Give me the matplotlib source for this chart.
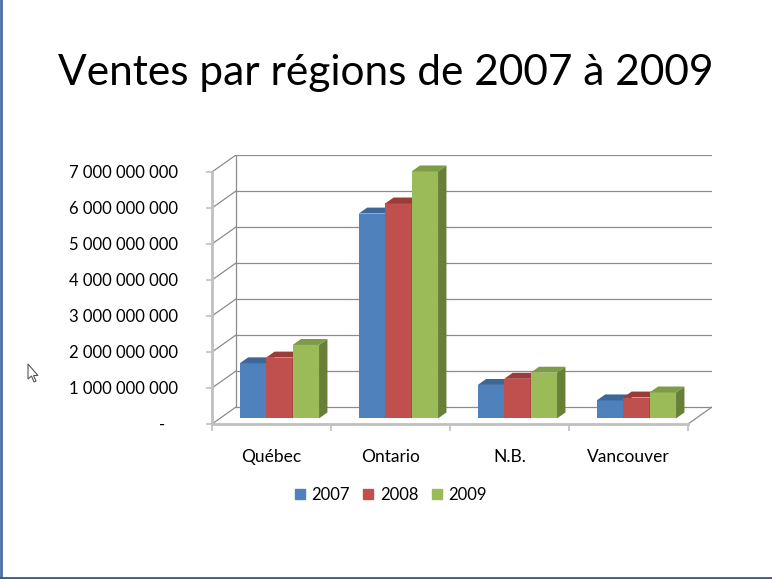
import matplotlib.pyplot as plt
from matplotlib.patches import Polygon
from matplotlib.ticker import FuncFormatter
from matplotlib.lines import Line2D

plt.rcParams['font.family'] = ['Lato', 'DejaVu Sans']

regions = ['Québec', 'Ontario', 'N.B.', 'Vancouver']
years = ['2007', '2008', '2009']
ventes_2007 = [1.53e9, 5.69e9, 0.93e9, 0.50e9]
ventes_2008 = [1.69e9, 5.97e9, 1.10e9, 0.58e9]
ventes_2009 = [2.04e9, 6.86e9, 1.27e9, 0.72e9]
series = [ventes_2007, ventes_2008, ventes_2009]
y_ticks = [0, 1e9, 2e9, 3e9, 4e9, 5e9, 6e9, 7e9]

front_col = ['#4F81BD', '#C0504D', '#9BBB59']
top_col = ['#3D6699', '#9C3B38', '#7E9B45']
side_col = ['#385D8A', '#8A3735', '#677F37']

# oblique depth of the plot box, in data units
dx = 0.2017
dy = 0.472e9
f0, f1 = 0.33, 0.68
w = 0.222
ymax = 7e9

fig = plt.figure(figsize=(7.72, 5.79), dpi=100)
W, H = 772, 579
ax = fig.add_axes([212 / W, 1 - 424 / H, 500 / W, 269 / H])
ax.set_xlim(-0.5, 3.5 + dx)
ax.set_ylim(0, ymax + dy)
for s in ax.spines.values():
    s.set_visible(False)

grid = '#8C8C8C'
floor = '#C0C0C0'
# back wall gridlines and diagonals
for v in y_ticks:
    ax.plot([-0.5 + dx, 3.5 + dx], [v + dy, v + dy], color=grid, lw=0.9, zorder=1)
    ax.plot([-0.5, -0.5 + dx], [v, v + dy], color=grid, lw=0.9, zorder=1)
ax.plot([-0.5 + dx, -0.5 + dx], [dy, ymax + dy], color=grid, lw=0.9, zorder=1)
ax.plot([3.5, 3.5 + dx], [0, dy], color=grid, lw=0.9, zorder=1)
# front edges
ax.plot([-0.5, 3.5], [0, 0], color=floor, lw=2, zorder=2, clip_on=False)
ax.plot([-0.5, -0.5], [0, ymax], color=floor, lw=2, zorder=2, clip_on=False)

x0 = [j - 0.5 + (1 - 3 * w) / 2 for j in range(len(regions))]
z = 3
for j in range(len(regions)):
    for i, vals in enumerate(series):
        bars = ax.bar(x0[j] + i * w + f0 * dx, vals[j], width=w, bottom=f0 * dy,
                      align='edge', color=front_col[i], zorder=z, linewidth=0)
        r = bars[0]
        xl, b = r.get_x(), r.get_y()
        xr, t = xl + r.get_width(), b + r.get_height()
        ddx, ddy = (f1 - f0) * dx, (f1 - f0) * dy
        ax.add_patch(Polygon([(xr, b), (xr + ddx, b + ddy), (xr + ddx, t + ddy), (xr, t)],
                             closed=True, color=side_col[i], lw=0, zorder=z))
        ax.add_patch(Polygon([(xl, t), (xl + ddx, t + ddy), (xr + ddx, t + ddy), (xr, t)],
                             closed=True, color=top_col[i], lw=0, zorder=z))
        z += 1

ax.set_yticks(y_ticks)
ax.yaxis.set_major_formatter(FuncFormatter(
    lambda v, p: '-   ' if v == 0 else f'{int(v):,}'.replace(',', ' ')))
ax.tick_params(axis='y', length=4.5, color=floor, width=1.2, labelsize=12, pad=20)
ax.set_xticks([-0.5, 0.5, 1.5, 2.5, 3.5])
ax.set_xticklabels([])
ax.set_xticks(range(len(regions)), minor=True)
ax.set_xticklabels(regions, minor=True)
ax.tick_params(axis='x', which='major', length=5, color=floor, width=1.2, direction='out')
ax.tick_params(axis='x', which='minor', length=0, labelsize=12.5, pad=18)

handles = [plt.Rectangle((0, 0), 1, 1, color=c) for c in front_col]
fig.legend(handles, years, loc='center', bbox_to_anchor=(391 / W, 1 - 495 / H), ncol=3,
           frameon=False, fontsize=12, handlelength=0.6, handleheight=0.6,
           handletextpad=0.4, columnspacing=0.8)

fig.text(386 / W, 1 - 73 / H, 'Ventes par régions de 2007 à 2009', ha='center', va='center',
         fontsize=30.5)

# slide border
fig.add_artist(Line2D([1 / W, 1 / W], [0, 1], color='#4A6FA5', lw=2))
fig.add_artist(Line2D([0, 1], [1.5 / H, 1.5 / H], color='#3D5A80', lw=2))
# mouse pointer
cur = [(28, 364), (28, 379), (31.5, 376), (34, 382), (36, 381), (33.5, 375.5), (38, 375.5)]
fig.add_artist(Polygon([(x / W, 1 - y / H) for x, y in cur], closed=True,
                       facecolor='white', edgecolor='#555555', lw=0.8,
                       transform=fig.transFigure))

fig.savefig('out.png', dpi=100)
